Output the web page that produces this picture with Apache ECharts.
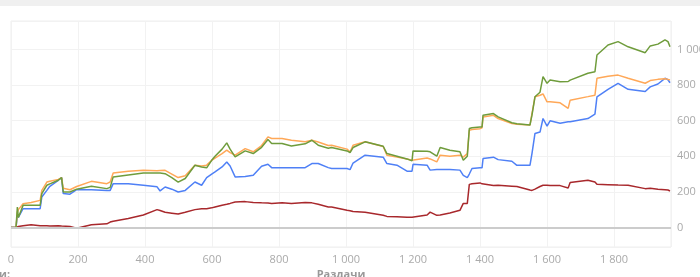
<!DOCTYPE html>
<html><head><meta charset="utf-8">
<script src="https://cdn.jsdelivr.net/npm/echarts@6/dist/echarts.min.js"></script>
<style>html,body{margin:0;padding:0;background:#fff}#c{width:700px;height:277px}</style>
</head><body><div id="c"></div>
<script>
const hands = [0,15,19,22,36,60,87,92,107,116,141,151,156,176,196,240,286,296,305,350,395,436,445,460,480,499,520,549,569,584,599,609,630,644,654,669,699,723,748,767,778,809,837,878,898,917,947,957,1003,1012,1021,1057,1111,1122,1152,1182,1197,1200,1242,1251,1271,1281,1310,1340,1350,1362,1368,1376,1400,1406,1409,1440,1454,1495,1510,1549,1555,1564,1579,1588,1600,1609,1639,1663,1669,1722,1743,1749,1782,1812,1842,1893,1908,1931,1952,1961,1967];
const redVals = [0,0,5,5,10,15,10,12,10,8,10,8,8,5,-5,15,20,30,35,50,70,100,95,85,80,75,85,100,105,105,110,115,125,130,135,143,145,140,138,137,135,138,135,140,138,130,115,115,96,94,90,85,68,62,60,57,57,58,70,86,68,70,81,96,135,135,242,245,250,245,245,235,237,232,230,210,208,215,230,237,237,235,235,222,252,265,255,242,240,238,237,218,220,215,212,210,205];
const blueVals = [0,0,68,56,105,105,105,171,208,231,265,280,190,187,212,212,208,208,246,246,237,228,205,227,215,199,208,255,237,280,300,312,340,368,345,284,286,293,344,355,336,336,336,336,359,359,336,331,331,325,362,406,395,359,350,316,316,355,350,322,325,325,325,322,293,280,300,331,335,335,387,395,381,372,349,349,415,528,536,612,569,599,586,594,594,612,637,734,776,810,776,764,790,806,838,830,813];
const orangeVals = [0,0,86,100,133,140,152,208,255,260,270,280,220,212,230,259,246,255,306,315,321,318,320,321,300,280,290,349,345,350,377,390,415,434,420,406,443,425,460,509,500,500,490,481,490,480,460,462,440,424,462,481,455,406,395,385,377,385,390,385,368,406,400,406,395,415,546,550,555,560,621,630,612,584,580,575,640,734,743,750,706,706,700,669,715,735,743,838,850,856,838,810,825,832,835,832,829];
const greenVals = [0,0,115,56,124,124,124,190,237,245,265,280,199,199,215,231,218,225,284,295,306,306,306,302,280,255,275,349,340,335,377,400,440,475,440,396,430,415,450,494,472,472,458,470,490,462,445,449,430,421,449,481,456,415,400,385,374,430,428,425,400,449,434,425,377,400,556,560,565,565,631,640,621,588,582,575,631,734,760,847,810,828,819,820,828,866,875,969,1025,1044,1015,982,1020,1030,1054,1044,1015];
const xTicks = [0,200,400,600,800,1000,1200,1400,1600,1800];
const yTicks = [0,200,400,600,800,1000];

const fmt = v => String(v).replace(/\B(?=(\d{3})+(?!\d))/g, ' ');
const pairs = vals => hands.map((h,i)=>[h, vals[i]]);
const mk = (name, color, vals) => ({
  name, type:'line', data: pairs(vals), showSymbol:false, symbol:'none',
  lineStyle:{color, width:1.5}, itemStyle:{color}, animation:false
});

const chart = echarts.init(document.getElementById('c'), null, {renderer:'canvas'});
const series = [
  mk('red','#a8282c',redVals),
  mk('blue','#4f80f6',blueVals),
  mk('orange','#ffa858',orangeVals),
  mk('green','#6f9c3c',greenVals)
];
series[0].markLine = {silent:true, symbol:'none', label:{show:false}, animation:false,
  lineStyle:{color:'#cccccc', width:2, type:'solid'}, data:[{yAxis:0}]};

chart.setOption({
  animation:false,
  graphic:[
    {type:'rect', shape:{x:0,y:0,width:700,height:6}, style:{fill:'#f0f0f0'}, silent:true},
    {type:'text', left:-1, top:269, style:{text:'и:', fill:'#999', font:'bold 11px "Open Sans"'}}
  ],
  grid:{left:11, right:29, top:21, bottom:30, show:true, borderColor:'#efefef', borderWidth:1,
    containLabel:false, outerBoundsMode:'none'},
  xAxis:{type:'value', min:0, max:1970, interval:200,
    name:'Раздачи', nameLocation:'middle', nameGap:22, nameMoveOverlap:false,
    nameTextStyle:{color:'#999', fontWeight:'bold', fontSize:11, fontFamily:'Open Sans'},
    axisLine:{show:false}, axisTick:{show:false},
    axisLabel:{color:'#aaa', fontSize:11, fontFamily:'Open Sans', margin:7,
      formatter: v => xTicks.includes(v) ? fmt(v) : ''},
    splitLine:{show:true, lineStyle:{color:'#f2f2f2', width:1}}},
  yAxis:{type:'value', position:'right', min:-110, max:1160, splitNumber:6,
    axisLine:{show:false}, axisTick:{show:false},
    axisLabel:{color:'#aaa', fontSize:11, fontFamily:'Open Sans', margin:6,
      formatter: v => yTicks.includes(v) ? fmt(v) : ''},
    splitLine:{show:true, lineStyle:{color:'#f2f2f2', width:1}}},
  series
});
</script></body></html>
